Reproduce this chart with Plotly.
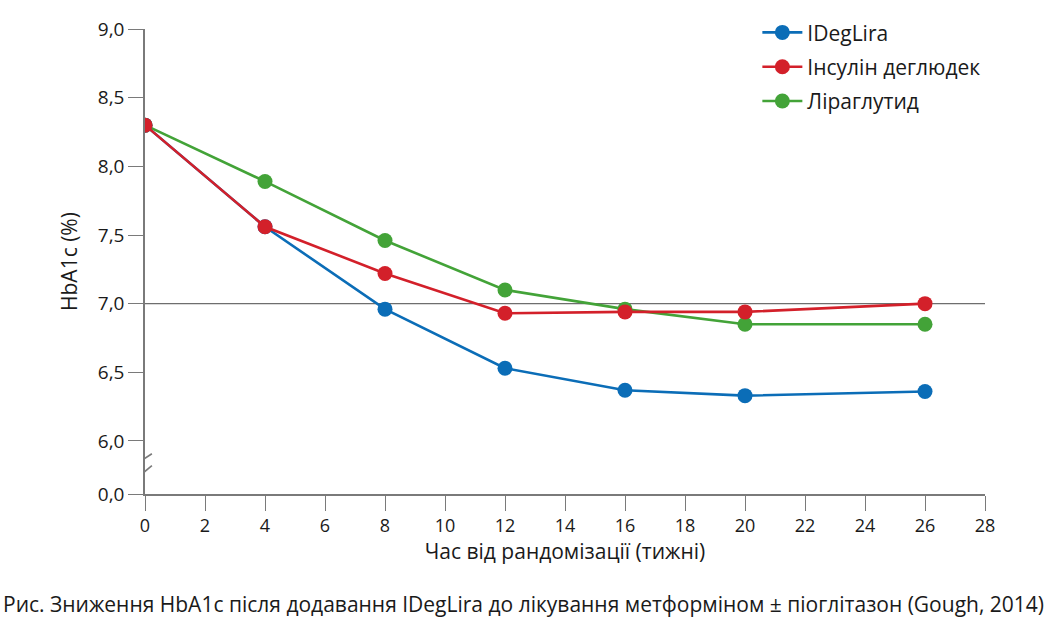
import plotly.graph_objects as go

weeks = [0, 4, 8, 12, 16, 20, 26]
ideglira = [8.30, 7.56, 6.96, 6.53, 6.37, 6.33, 6.36]
insulin_degludec = [8.30, 7.56, 7.22, 6.93, 6.94, 6.94, 7.00]
liraglutide = [8.30, 7.89, 7.46, 7.10, 6.96, 6.85, 6.85]

series_names = ["IDegLira", "Інсулін деглюдек", "Ліраглутид"]
colors = ["#0b6db7", "#d3202a", "#43a338"]

x_ticks = list(range(0, 29, 2))
y_tick_labels = ["0,0", "6,0", "6,5", "7,0", "7,5", "8,0", "8,5", "9,0"]
y_zero_pos = 5.614  # display position of the "0,0" tick below the axis break
y_tick_vals = [y_zero_pos, 6.0, 6.5, 7.0, 7.5, 8.0, 8.5, 9.0]

caption = "Рис. Зниження HbA1c після додавання IDegLira до лікування метформіном ± піоглітазон (Gough, 2014)"

FONT = "Open Sans, Noto Sans, sans-serif"
AXIS_COLOR = "#7a7a7a"

fig = go.Figure()
data = [ideglira, insulin_degludec, liraglutide]
# draw order: green, blue, red (red on top) ; legend order via legendrank
for idx in [2, 0, 1]:
    fig.add_trace(go.Scatter(
        x=weeks, y=data[idx], name=series_names[idx],
        mode="lines+markers",
        line=dict(color=colors[idx], width=2.6),
        marker=dict(color=colors[idx], size=15),
        legendrank=idx + 1, legendgroup=str(idx),
    ))

# reference line at 7.0
fig.add_shape(type="line", xref="x", yref="y", x0=0, x1=28, y0=7.0, y1=7.0,
              line=dict(color="#6e6e6e", width=1.3), layer="below")
# axis break: gap in y axis + two slashes
fig.add_shape(type="rect", xref="x", yref="y", x0=-0.12, x1=0.12, y0=5.78, y1=5.875,
              line=dict(width=0), fillcolor="white", layer="above")
fig.add_shape(type="line", xref="x", yref="y", x0=-0.27, x1=0.23, y0=5.836, y1=5.907,
              line=dict(color=AXIS_COLOR, width=1.6), layer="above")
fig.add_shape(type="line", xref="x", yref="y", x0=-0.27, x1=0.23, y0=5.729, y1=5.821,
              line=dict(color=AXIS_COLOR, width=1.6), layer="above")

fig.add_annotation(text=caption, xref="paper", yref="paper",
                   x=(523 - 145) / 840, y=-(606 - 494) / 474,
                   xanchor="center", yanchor="middle", showarrow=False,
                   font=dict(family=FONT, size=21, color="#1a1a1a"))

fig.update_layout(
    width=1047, height=621,
    margin=dict(l=145, r=62, t=20, b=127),
    paper_bgcolor="white", plot_bgcolor="white",
    font=dict(family=FONT, color="#1a1a1a"),
    showlegend=True,
    legend=dict(x=0.729, y=1.036, xanchor="left", yanchor="top",
                font=dict(size=21, family=FONT, color="#1a1a1a"),
                itemwidth=40,
                tracegroupgap=4, bgcolor="rgba(0,0,0,0)"),
    xaxis=dict(range=[0, 28], tickvals=x_ticks, ticktext=[str(v) for v in x_ticks],
               showgrid=False, zeroline=False, showline=True, linecolor=AXIS_COLOR,
               linewidth=1.5, ticks="outside", ticklen=15, tickcolor=AXIS_COLOR,
               tickwidth=1.3, tickfont=dict(size=18),
               title=dict(text="Час від рандомізації (тижні)", font=dict(size=21), standoff=6)),
    yaxis=dict(range=[y_zero_pos, 9.0], tickvals=y_tick_vals, ticktext=y_tick_labels,
               showgrid=False, zeroline=False, showline=True, linecolor=AXIS_COLOR,
               linewidth=1.5, ticks="outside", ticklen=15, tickcolor=AXIS_COLOR,
               tickwidth=1.3, tickfont=dict(size=19),
               title=dict(text="HbA1c (%)", font=dict(size=21), standoff=14)),
)

fig.write_html("out.html", config={"displayModeBar": False},
               post_script="document.body.style.margin='0';")
